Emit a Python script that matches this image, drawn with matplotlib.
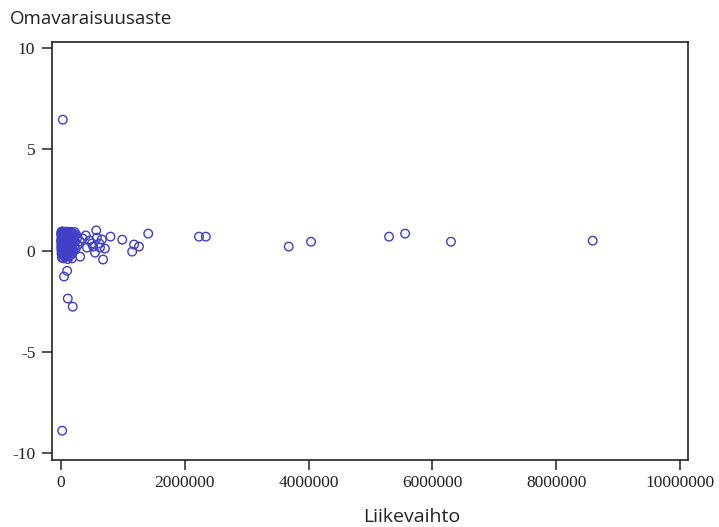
import matplotlib
matplotlib.use('Agg')
import matplotlib.pyplot as plt

# Liikevaihto (thousands of euros) and Omavaraisuusaste
core_x = [5, 12, 20, 30, 42, 55, 70, 85, 100, 118, 135, 150, 170, 195, 220,
          3, 15, 25, 38, 50, 62, 78, 92, 108, 125, 142, 160, 185, 210, 245,
          8, 18, 28, 40, 52, 66, 80, 96, 112, 130, 148, 175, 205, 260,
          2, 14, 24, 35, 48, 60, 75, 90, 105, 122, 140, 165, 190, 230, 300,
          6, 16, 27, 37, 46, 58, 72, 88, 102, 118, 138, 158, 185, 215, 270,
          4, 13, 22, 33, 44, 56, 68, 82, 98, 115, 132, 155, 180, 240,
          7, 17, 29, 41, 53, 64, 77, 94, 110, 128, 150, 175, 200,
          10, 23, 36, 50, 66, 85, 105, 130, 160,
          15, 40, 65, 110, 180, 310]
core_y = [0.92, 0.88, 0.95, 0.90, 0.93, 0.87, 0.90, 0.94, 0.88, 0.91, 0.86, 0.93, 0.90, 0.85, 0.92,
          0.78, 0.75, 0.80, 0.72, 0.77, 0.70, 0.76, 0.73, 0.79, 0.71, 0.74, 0.68, 0.76, 0.70, 0.78,
          0.62, 0.60, 0.65, 0.58, 0.63, 0.56, 0.61, 0.60, 0.54, 0.62, 0.57, 0.60, 0.55, 0.63,
          0.48, 0.45, 0.50, 0.43, 0.47, 0.42, 0.49, 0.44, 0.40, 0.46, 0.41, 0.48, 0.38, 0.44, 0.46,
          0.32, 0.30, 0.34, 0.28, 0.33, 0.26, 0.31, 0.29, 0.25, 0.32, 0.27, 0.22, 0.30, 0.24, 0.28,
          0.17, 0.15, 0.20, 0.12, 0.18, 0.10, 0.16, 0.13, 0.08, 0.14, 0.09, 0.12, 0.05, 0.10,
          0.02, -0.02, 0.04, -0.05, 0.00, -0.08, 0.03, -0.03, -0.10, 0.00, -0.06, -0.12, -0.02,
          -0.15, -0.18, -0.12, -0.22, -0.17, -0.25, -0.20, -0.28, -0.22,
          -0.35, -0.38, -0.32, -0.42, -0.38, -0.30]

outer_x = [30, 20, 110, 190, 100, 50, 570, 580, 800, 990, 1410, 1180, 1260, 1150,
           680, 710, 630, 550, 500, 420, 350, 400, 460, 620, 660, 520,
           2230, 2340, 3680, 4040, 5300, 5560, 6300, 8590]
outer_y = [6.47, -8.9, -2.37, -2.77, -1.0, -1.28, 1.0, 0.64, 0.69, 0.54, 0.84, 0.30, 0.20, -0.05,
           -0.44, 0.10, 0.15, -0.10, 0.35, 0.15, 0.60, 0.75, 0.50, 0.35, 0.55, 0.20,
           0.69, 0.69, 0.20, 0.44, 0.69, 0.84, 0.44, 0.49]

liikevaihto = [v * 1000 for v in core_x + outer_x]
omavaraisuus = core_y + outer_y

xticks = [0, 2000000, 4000000, 6000000, 8000000, 10000000]
yticks = [-10, -5, 0, 5, 10]

fig = plt.figure(figsize=(7.19, 5.27), dpi=100)
ax = fig.add_axes([0.0723, 0.127, 0.8846, 0.793])

ax.scatter(liikevaihto, omavaraisuus, s=38, facecolors='none',
           edgecolors='#3f3fc8', linewidths=1.0)

ax.set_xlim(-145000, 10130000)
ax.set_ylim(-10.35, 10.3)
ax.set_xticks(xticks)
ax.set_xticklabels([str(t) for t in xticks])
ax.set_yticks(yticks)
ax.set_yticklabels([str(t) for t in yticks])

for s in ax.spines.values():
    s.set_linewidth(1.2)
    s.set_color('#222222')
ax.tick_params(direction='out', length=7, width=1.1, color='#222222',
               labelsize=12.5, labelcolor='#222222')
ax.tick_params(axis='x', pad=4)
ax.tick_params(axis='y', pad=5)
for lab in ax.get_xticklabels() + ax.get_yticklabels():
    lab.set_family('Liberation Serif')

fig.text(10 / 719, 1 - 19 / 527, 'Omavaraisuusaste', ha='left', va='center',
         fontsize=13.5, family='Open Sans', color='#222222')
fig.text(412 / 719, 1 - 517 / 527, 'Liikevaihto', ha='center', va='center',
         fontsize=14, family='Open Sans', color='#222222')

fig.savefig('out.png', dpi=100)
